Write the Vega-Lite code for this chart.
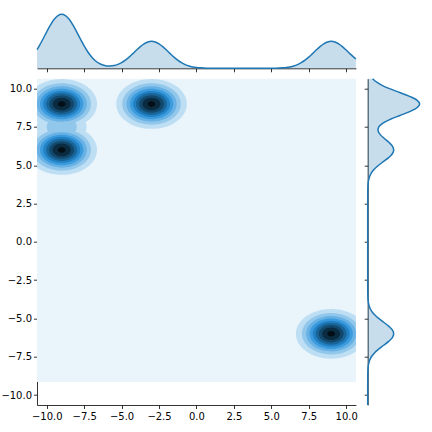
{
  "$schema": "https://vega.github.io/schema/vega-lite/v6.json",
  "padding": {"left": 0, "top": 10.3, "right": 0, "bottom": 0},
  "columns": 2,
  "align": "each",
  "bounds": "flush",
  "spacing": {"row": 10.4, "column": 11.7},
  "datasets": {
    "xMarg": [
      {"x": -10.65, "d": 0.0608}, {"x": -10.5, "d": 0.0732}, {"x": -10.25, "d": 0.0957}, {"x": -10, "d": 0.1193},
      {"x": -9.75, "d": 0.1416}, {"x": -9.5, "d": 0.16}, {"x": -9.25, "d": 0.1722}, {"x": -9, "d": 0.1765},
      {"x": -8.75, "d": 0.1722}, {"x": -8.5, "d": 0.16}, {"x": -8.25, "d": 0.1416}, {"x": -8, "d": 0.1193},
      {"x": -7.75, "d": 0.0958}, {"x": -7.5, "d": 0.0732}, {"x": -7.25, "d": 0.0533}, {"x": -7, "d": 0.037},
      {"x": -6.75, "d": 0.0247}, {"x": -6.5, "d": 0.016}, {"x": -6.25, "d": 0.0106}, {"x": -6, "d": 0.0078},
      {"x": -5.75, "d": 0.0074}, {"x": -5.5, "d": 0.0091}, {"x": -5.25, "d": 0.0129}, {"x": -5, "d": 0.0188},
      {"x": -4.75, "d": 0.0268}, {"x": -4.5, "d": 0.0366}, {"x": -4.25, "d": 0.0479}, {"x": -4, "d": 0.0597},
      {"x": -3.75, "d": 0.0708}, {"x": -3.5, "d": 0.08}, {"x": -3.25, "d": 0.0861}, {"x": -3, "d": 0.0883},
      {"x": -2.75, "d": 0.0861}, {"x": -2.5, "d": 0.08}, {"x": -2.25, "d": 0.0708}, {"x": -2, "d": 0.0597},
      {"x": -1.75, "d": 0.0479}, {"x": -1.5, "d": 0.0366}, {"x": -1.25, "d": 0.0266}, {"x": -1, "d": 0.0184},
      {"x": -0.75, "d": 0.0122}, {"x": -0.5, "d": 0.0076}, {"x": -0.25, "d": 0.0046}, {"x": 0, "d": 0.0026},
      {"x": 0.25, "d": 0.0014}, {"x": 0.5, "d": 0.0007}, {"x": 0.75, "d": 0.0004}, {"x": 1, "d": 0.0002},
      {"x": 1.5, "d": 0}, {"x": 3, "d": 0}, {"x": 4.5, "d": 0}, {"x": 5, "d": 0.0002},
      {"x": 5.25, "d": 0.0004}, {"x": 5.5, "d": 0.0007}, {"x": 5.75, "d": 0.0014}, {"x": 6, "d": 0.0026},
      {"x": 6.25, "d": 0.0046}, {"x": 6.5, "d": 0.0076}, {"x": 6.75, "d": 0.0122}, {"x": 7, "d": 0.0184},
      {"x": 7.25, "d": 0.0266}, {"x": 7.5, "d": 0.0366}, {"x": 7.75, "d": 0.0479}, {"x": 8, "d": 0.0597},
      {"x": 8.25, "d": 0.0708}, {"x": 8.5, "d": 0.08}, {"x": 8.75, "d": 0.0861}, {"x": 9, "d": 0.0883},
      {"x": 9.25, "d": 0.0861}, {"x": 9.5, "d": 0.08}, {"x": 9.75, "d": 0.0708}, {"x": 10, "d": 0.0597},
      {"x": 10.25, "d": 0.0479}, {"x": 10.5, "d": 0.0366}, {"x": 10.65, "d": 0.0304}
    ],
    "yMarg": [
      {"y": -10.65, "d": 0}, {"y": -9.5, "d": 0}, {"y": -9, "d": 0.0001}, {"y": -8.75, "d": 0.0002},
      {"y": -8.5, "d": 0.0006}, {"y": -8.25, "d": 0.0016}, {"y": -8, "d": 0.0041}, {"y": -7.75, "d": 0.0093},
      {"y": -7.5, "d": 0.0187}, {"y": -7.25, "d": 0.0339}, {"y": -7, "d": 0.0552}, {"y": -6.75, "d": 0.0806},
      {"y": -6.5, "d": 0.1057}, {"y": -6.25, "d": 0.1243}, {"y": -6, "d": 0.1312}, {"y": -5.75, "d": 0.1243},
      {"y": -5.5, "d": 0.1057}, {"y": -5.25, "d": 0.0806}, {"y": -5, "d": 0.0552}, {"y": -4.75, "d": 0.0339},
      {"y": -4.5, "d": 0.0187}, {"y": -4.25, "d": 0.0093}, {"y": -4, "d": 0.0041}, {"y": -3.75, "d": 0.0016},
      {"y": -3.5, "d": 0.0006}, {"y": -3.25, "d": 0.0002}, {"y": -3, "d": 0.0001}, {"y": -2.5, "d": 0},
      {"y": 0, "d": 0}, {"y": 2.5, "d": 0}, {"y": 3, "d": 0.0001}, {"y": 3.25, "d": 0.0002},
      {"y": 3.5, "d": 0.0006}, {"y": 3.75, "d": 0.0016}, {"y": 4, "d": 0.0041}, {"y": 4.25, "d": 0.0093},
      {"y": 4.5, "d": 0.0187}, {"y": 4.75, "d": 0.0339}, {"y": 5, "d": 0.0552}, {"y": 5.25, "d": 0.0806},
      {"y": 5.5, "d": 0.1057}, {"y": 5.75, "d": 0.1243}, {"y": 6, "d": 0.1313}, {"y": 6.25, "d": 0.1247},
      {"y": 6.5, "d": 0.1069}, {"y": 6.75, "d": 0.0839}, {"y": 7, "d": 0.0634}, {"y": 7.25, "d": 0.0525},
      {"y": 7.5, "d": 0.0561}, {"y": 7.75, "d": 0.0771}, {"y": 8, "d": 0.1146}, {"y": 8.25, "d": 0.1629},
      {"y": 8.5, "d": 0.212}, {"y": 8.75, "d": 0.2488}, {"y": 9, "d": 0.2625}, {"y": 9.25, "d": 0.2486},
      {"y": 9.5, "d": 0.2114}, {"y": 9.75, "d": 0.1613}, {"y": 10, "d": 0.1104}, {"y": 10.25, "d": 0.0679},
      {"y": 10.5, "d": 0.0374}, {"y": 10.65, "d": 0.0249}
    ],
    "bg": [{"cx": -12.5, "cx2": 12.5, "cy": -9.15, "cy2": 12.5}],
    "contours": [
      {"cx": -9, "cy": 9, "level": 0.005}, {"cx": -3, "cy": 9, "level": 0.005}, {"cx": -9, "cy": 6, "level": 0.005}, {"cx": 9, "cy": -6, "level": 0.005},
      {"cx": -9, "cy": 9, "level": 0.01}, {"cx": -3, "cy": 9, "level": 0.01}, {"cx": -9, "cy": 6, "level": 0.01}, {"cx": 9, "cy": -6, "level": 0.01},
      {"cx": -9, "cy": 9, "level": 0.015}, {"cx": -3, "cy": 9, "level": 0.015}, {"cx": -9, "cy": 6, "level": 0.015}, {"cx": 9, "cy": -6, "level": 0.015},
      {"cx": -9, "cy": 9, "level": 0.02}, {"cx": -3, "cy": 9, "level": 0.02}, {"cx": -9, "cy": 6, "level": 0.02}, {"cx": 9, "cy": -6, "level": 0.02},
      {"cx": -9, "cy": 9, "level": 0.025}, {"cx": -3, "cy": 9, "level": 0.025}, {"cx": -9, "cy": 6, "level": 0.025}, {"cx": 9, "cy": -6, "level": 0.025},
      {"cx": -9, "cy": 9, "level": 0.03}, {"cx": -3, "cy": 9, "level": 0.03}, {"cx": -9, "cy": 6, "level": 0.03}, {"cx": 9, "cy": -6, "level": 0.03},
      {"cx": -9, "cy": 9, "level": 0.035}, {"cx": -3, "cy": 9, "level": 0.035}, {"cx": -9, "cy": 6, "level": 0.035}, {"cx": 9, "cy": -6, "level": 0.035},
      {"cx": -9, "cy": 9, "level": 0.04}, {"cx": -3, "cy": 9, "level": 0.04}, {"cx": -9, "cy": 6, "level": 0.04}, {"cx": 9, "cy": -6, "level": 0.04},
      {"cx": -9, "cy": 9, "level": 0.045}, {"cx": -3, "cy": 9, "level": 0.045}, {"cx": -9, "cy": 6, "level": 0.045}, {"cx": 9, "cy": -6, "level": 0.045}
    ],
    "necks": [
      {"cx": -9, "cy": 7.5, "level": 0.005}, {"cx": -9, "cy": 7.5, "level": 0.01}
    ]
  },
  "concat": [
    {
      "width": 318.9,
      "height": 57,
      "data": {"name": "xMarg"},
      "encoding": {
        "x": {"field": "x", "type": "quantitative", "scale": {"domain": [-10.65, 10.65], "nice": false, "zero": false},
              "axis": {"values": [-10, -7.5, -5, -2.5, 0, 2.5, 5, 7.5, 10], "labels": false, "title": null}},
        "y": {"field": "d", "type": "quantitative", "scale": {"domain": [0, 0.1863], "nice": false}, "axis": null}
      },
      "layer": [
        {"mark": {"type": "area", "fill": "#1f77b4", "fillOpacity": 0.25, "interpolate": "catmull-rom"}},
        {"mark": {"type": "line", "stroke": "#1f77b4", "strokeWidth": 1.5, "interpolate": "catmull-rom"}}
      ]
    },
    {
      "width": 55,
      "height": 57,
      "data": {"values": [{}]},
      "mark": {"type": "text", "text": ""},
      "encoding": {}
    },
    {
      "width": 318.9,
      "height": 326.3,
      "encoding": {
        "x": {"field": "cx", "type": "quantitative", "scale": {"domain": [-10.65, 10.65], "nice": false, "zero": false},
              "axis": {"values": [-10, -7.5, -5, -2.5, 0, 2.5, 5, 7.5, 10], "format": ".1f", "title": null}},
        "y": {"field": "cy", "type": "quantitative", "scale": {"domain": [-10.65, 10.65], "nice": false, "zero": false},
              "axis": {"values": [-10, -7.5, -5, -2.5, 0, 2.5, 5, 7.5, 10], "format": ".1f", "title": null, "labelPadding": 2}}
      },
      "layer": [
        {
          "data": {"name": "bg"},
          "mark": {"type": "rect", "color": "#e9f4fb", "clip": true},
          "encoding": {"x2": {"field": "cx2"}, "y2": {"field": "cy2"}}
        },
        {
          "data": {"name": "contours"},
          "transform": [{"filter": {"field": "level", "equal": 0.005}}],
          "mark": {"type": "point", "shape": "M-1,0A1,0.705,0,1,1,1,0A1,0.705,0,1,1,-1,0Z", "filled": true, "opacity": 1, "strokeWidth": 0, "clip": true},
          "encoding": {
            "color": {"field": "level", "type": "ordinal", "scale": {"domain": [0.005, 0.01, 0.015, 0.02, 0.025, 0.03, 0.035, 0.04, 0.045], "range": ["#bedef4", "#92c7ec", "#67b1e5", "#3b9bdd", "#2281c4", "#1a6598", "#13486d", "#0b2b41", "#040e16"]}, "legend": null},
            "size": {"field": "level", "type": "quantitative", "scale": {"domain": [0.005, 0.01, 0.015, 0.02, 0.025, 0.03, 0.035, 0.04, 0.045], "range": [4984, 3432, 2522, 1877, 1376, 968, 622, 323, 59]}, "legend": null}
          }
        },
        {
          "data": {"name": "necks"},
          "transform": [{"filter": {"field": "level", "equal": 0.005}}],
          "mark": {"type": "point", "shape": "M-1,0A1,0.705,0,1,1,1,0A1,0.705,0,1,1,-1,0Z", "filled": true, "opacity": 1, "strokeWidth": 0, "clip": true},
          "encoding": {
            "color": {"field": "level", "type": "ordinal", "legend": null},
            "size": {"value": 2460}
          }
        },
        {
          "data": {"name": "contours"},
          "transform": [{"filter": {"field": "level", "equal": 0.01}}],
          "mark": {"type": "point", "shape": "M-1,0A1,0.705,0,1,1,1,0A1,0.705,0,1,1,-1,0Z", "filled": true, "opacity": 1, "strokeWidth": 0, "clip": true},
          "encoding": {
            "color": {"field": "level", "type": "ordinal", "legend": null},
            "size": {"field": "level", "type": "quantitative", "legend": null}
          }
        },
        {
          "data": {"name": "necks"},
          "transform": [{"filter": {"field": "level", "equal": 0.01}}],
          "mark": {"type": "point", "shape": "M-1,0A1,0.705,0,1,1,1,0A1,0.705,0,1,1,-1,0Z", "filled": true, "opacity": 1, "strokeWidth": 0, "clip": true},
          "encoding": {
            "color": {"field": "level", "type": "ordinal", "legend": null},
            "size": {"value": 906}
          }
        },
        {
          "data": {"name": "contours"},
          "transform": [{"filter": {"field": "level", "gte": 0.015}}],
          "mark": {"type": "point", "shape": "M-1,0A1,0.705,0,1,1,1,0A1,0.705,0,1,1,-1,0Z", "filled": true, "opacity": 1, "strokeWidth": 0, "clip": true},
          "encoding": {
            "color": {"field": "level", "type": "ordinal", "legend": null},
            "size": {"field": "level", "type": "quantitative", "legend": null},
            "order": {"field": "level", "type": "quantitative"}
          }
        }
      ]
    },
    {
      "width": 55,
      "height": 326.3,
      "data": {"name": "yMarg"},
      "encoding": {
        "y": {"field": "y", "type": "quantitative", "scale": {"domain": [-10.65, 10.65], "nice": false, "zero": false},
              "axis": {"values": [-10, -7.5, -5, -2.5, 0, 2.5, 5, 7.5, 10], "labels": false, "title": null}},
        "x": {"field": "d", "type": "quantitative", "scale": {"domain": [0, 0.2776], "nice": false}, "axis": null}
      },
      "layer": [
        {"mark": {"type": "area", "orient": "horizontal", "fill": "#1f77b4", "fillOpacity": 0.25, "interpolate": "catmull-rom"}},
        {"mark": {"type": "line", "orient": "horizontal", "stroke": "#1f77b4", "strokeWidth": 1.5, "interpolate": "catmull-rom"},
         "encoding": {"order": {"field": "y", "type": "quantitative"}}}
      ]
    }
  ],
  "config": {
    "view": {"stroke": null},
    "axis": {
      "domainColor": "#000000", "domainWidth": 0.8, "tickColor": "#000000", "tickWidth": 0.8, "tickSize": 3.5,
      "labelFont": "DejaVu Sans", "labelFontSize": 10, "labelColor": "#000000", "labelPadding": 3.5,
      "grid": false, "labelFlush": false, "labelOverlap": false
    }
  }
}
